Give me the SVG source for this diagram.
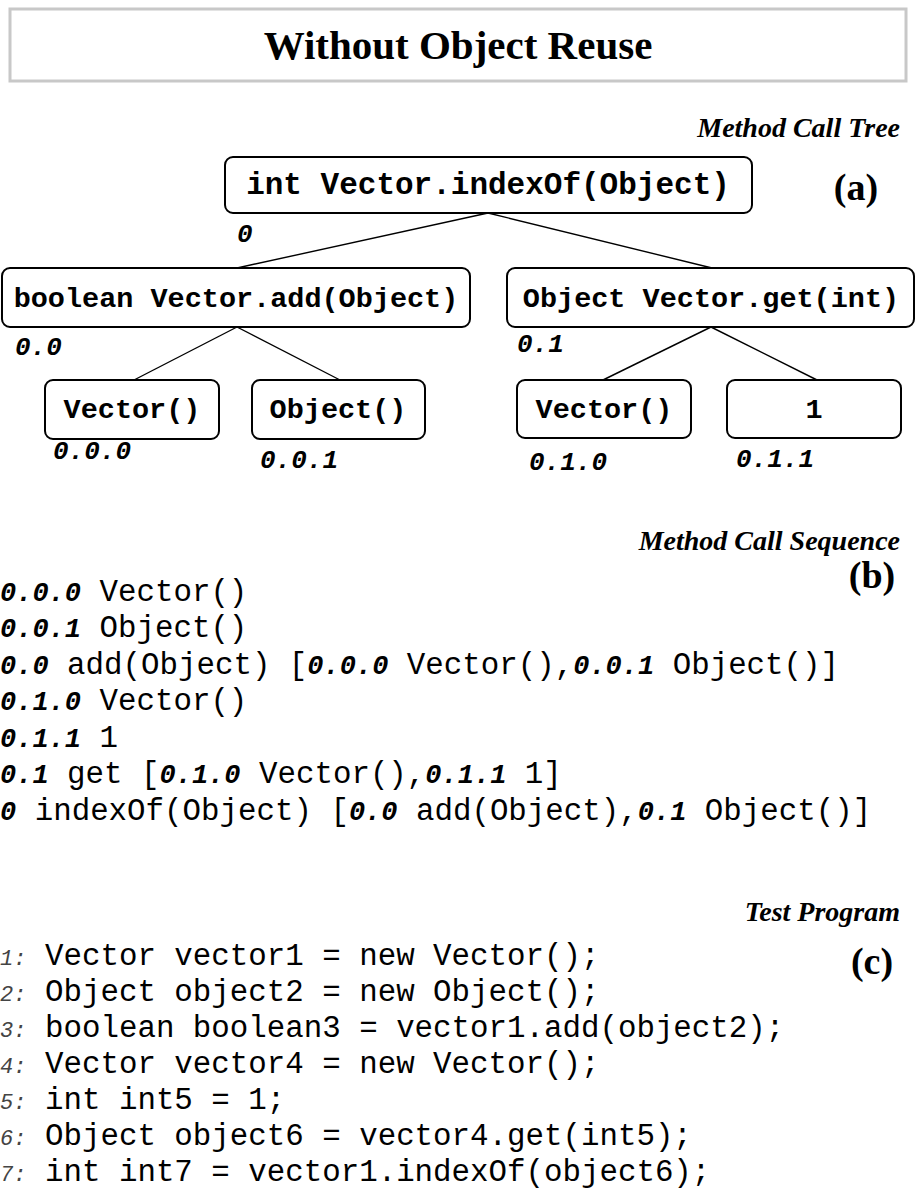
<svg xmlns="http://www.w3.org/2000/svg" width="916" height="1189" viewBox="0 0 916 1189">
<style>
text{white-space:pre}
.node rect{fill:#fff;stroke:#000;stroke-width:2}
.conn line{stroke:#000;stroke-width:1.4}
.nt{font-family:"Liberation Mono",monospace;font-weight:bold;font-size:28.5px;text-anchor:middle}
.lbl{font-family:"Liberation Mono",monospace;font-weight:bold;font-style:italic;font-size:26px}
.hdr{font-family:"Liberation Serif",serif;font-weight:bold;font-style:italic;font-size:28px;text-anchor:end}
.tag{font-family:"Liberation Serif",serif;font-weight:bold;font-size:38px;text-anchor:middle}
.code{font-family:"Liberation Mono",monospace;font-size:30.8px}
.num{font-weight:bold;font-style:italic;font-size:27px}
.ln{font-family:"Liberation Mono",monospace;font-style:italic;font-size:22px;fill:#444}
</style>
<g id="title">
<rect x="10" y="9" width="896" height="72" fill="none" stroke="#c8c8c8" stroke-width="3"/>
<text x="458" y="59" font-family="Liberation Serif, serif" font-weight="bold" font-size="41" text-anchor="middle">Without Object Reuse</text>
</g>
<text class="hdr" x="900" y="137">Method Call Tree</text>
<text class="tag" x="856" y="200">(a)</text>
<g class="conn" id="connectors">
<line x1="488" y1="213" x2="237" y2="268"/>
<line x1="488" y1="213" x2="712" y2="268"/>
<line x1="237" y1="327" x2="134" y2="380"/>
<line x1="237" y1="327" x2="340" y2="380"/>
<line x1="711" y1="327" x2="603" y2="380"/>
<line x1="711" y1="327" x2="817" y2="380"/>
</g>
<g class="node" id="n0">
<rect x="225" y="157" width="527" height="56" rx="8"/>
<text class="nt" x="488" y="194" style="font-size:31px">int Vector.indexOf(Object)</text>
<text class="lbl" x="237" y="242">0</text>
</g>
<g class="node" id="n00">
<rect x="2" y="268" width="468" height="59" rx="8"/>
<text class="nt" x="236" y="307">boolean Vector.add(Object)</text>
<text class="lbl" x="15" y="355">0.0</text>
</g>
<g class="node" id="n01">
<rect x="507" y="268" width="407" height="59" rx="8"/>
<text class="nt" x="711" y="307">Object Vector.get(int)</text>
<text class="lbl" x="517" y="352">0.1</text>
</g>
<g class="node" id="n000">
<rect x="45" y="380" width="174" height="59" rx="8"/>
<text class="nt" x="132" y="418">Vector()</text>
<text class="lbl" x="53" y="459">0.0.0</text>
</g>
<g class="node" id="n001">
<rect x="252" y="380" width="173" height="59" rx="8"/>
<text class="nt" x="338" y="418">Object()</text>
<text class="lbl" x="260" y="468">0.0.1</text>
</g>
<g class="node" id="n010">
<rect x="517" y="380" width="174" height="58" rx="8"/>
<text class="nt" x="604" y="418">Vector()</text>
<text class="lbl" x="529" y="470">0.1.0</text>
</g>
<g class="node" id="n011">
<rect x="727" y="380" width="174" height="58" rx="8"/>
<text class="nt" x="814" y="418">1</text>
<text class="lbl" x="736" y="467">0.1.1</text>
</g>
<text class="hdr" x="900" y="550">Method Call Sequence</text>
<text class="tag" x="872" y="588">(b)</text>
<g id="sequence">
<text class="code" x="0" y="601"><tspan class="num">0.0.0</tspan> Vector()</text>
<text class="code" x="0" y="637"><tspan class="num">0.0.1</tspan> Object()</text>
<text class="code" x="0" y="674"><tspan class="num">0.0</tspan> add(Object) [<tspan class="num">0.0.0</tspan> Vector(),<tspan class="num">0.0.1</tspan> Object()]</text>
<text class="code" x="0" y="710"><tspan class="num">0.1.0</tspan> Vector()</text>
<text class="code" x="0" y="747"><tspan class="num">0.1.1</tspan> 1</text>
<text class="code" x="0" y="783"><tspan class="num">0.1</tspan> get [<tspan class="num">0.1.0</tspan> Vector(),<tspan class="num">0.1.1</tspan> 1]</text>
<text class="code" x="0" y="820"><tspan class="num">0</tspan> indexOf(Object) [<tspan class="num">0.0</tspan> add(Object),<tspan class="num">0.1</tspan> Object()]</text>
</g>
<text class="hdr" x="900" y="921">Test Program</text>
<text class="tag" x="872" y="974">(c)</text>
<g id="program">
<text class="ln" x="0" y="965">1:</text><text class="code" x="45" y="965">Vector vector1 = new Vector();</text>
<text class="ln" x="0" y="1001">2:</text><text class="code" x="45" y="1001">Object object2 = new Object();</text>
<text class="ln" x="0" y="1037">3:</text><text class="code" x="45" y="1037">boolean boolean3 = vector1.add(object2);</text>
<text class="ln" x="0" y="1073">4:</text><text class="code" x="45" y="1073">Vector vector4 = new Vector();</text>
<text class="ln" x="0" y="1109">5:</text><text class="code" x="45" y="1109">int int5 = 1;</text>
<text class="ln" x="0" y="1145">6:</text><text class="code" x="45" y="1145">Object object6 = vector4.get(int5);</text>
<text class="ln" x="0" y="1181">7:</text><text class="code" x="45" y="1181">int int7 = vector1.indexOf(object6);</text>
</g>
</svg>
